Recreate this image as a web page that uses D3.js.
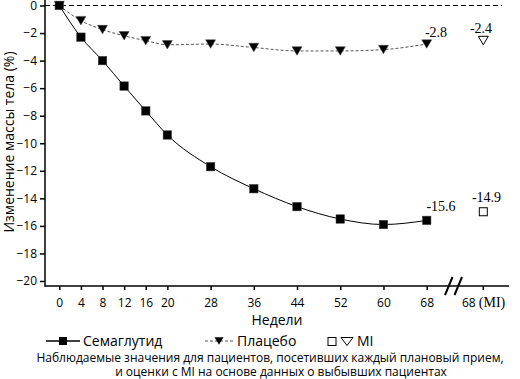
<!DOCTYPE html>
<html><head><meta charset="utf-8">
<script src="https://cdn.jsdelivr.net/npm/d3@7"></script>
<style>body{margin:0;background:#fff}svg{display:block}</style>
</head><body>
<script>
const weeks = [0, 4, 8, 12, 16, 20, 28, 36, 44, 52, 60, 68];
const semaglutide = [0, -2.3, -4.0, -5.85, -7.65, -9.4, -11.7, -13.3, -14.6, -15.5, -15.9, -15.6];
const placebo = [0, -1.1, -1.75, -2.2, -2.55, -2.85, -2.8, -3.05, -3.3, -3.3, -3.2, -2.8];
const miValues = {semaglutide: -14.9, placebo: -2.4};
const yTicks = [0, -2, -4, -6, -8, -10, -12, -14, -16, -18, -20];
const yLabel = "Изменение массы тела (%)";
const xLabel = "Недели";
const legendNames = ["Семаглутид", "Плацебо", "MI"];
const noteLines = ["Наблюдаемые значения для пациентов, посетивших каждый плановый прием,",
                   "и оценки с MI на основе данных о выбывших пациентах"];

const W = 520, H = 379;
const svg = d3.select("body").append("svg").attr("width", W).attr("height", H);
const sans = "'Open Sans', 'Noto Sans', sans-serif";
const serif = "'Liberation Serif', 'DejaVu Serif', serif";

const x = d3.scaleLinear().domain([0, 68]).range([59.3, 426.7]);
const xMI = 483.3;
const y = d3.scaleLinear().domain([-20, 0]).range([281, 5.5]);
const axisY = 286, axisX = 45;

// zero reference line
svg.append("line").attr("x1", axisX).attr("x2", 502).attr("y1", y(0)).attr("y2", y(0))
  .attr("stroke", "#000").attr("stroke-width", 1.2).attr("stroke-dasharray", "5,3");

// Y axis
const gy = svg.append("g").attr("transform", `translate(${axisX},0)`)
  .call(d3.axisLeft(y).tickValues(yTicks).tickSize(5).tickPadding(3).tickFormat(d3.format("d")));
gy.select(".domain").remove();
gy.selectAll(".tick line").attr("stroke-width", 1.5);
gy.selectAll("text").attr("font-family", sans).attr("font-size", 12).attr("fill", "#000");
svg.append("line").attr("x1", axisX).attr("x2", axisX).attr("y1", 0).attr("y2", axisY + 0.75)
  .attr("stroke", "#000").attr("stroke-width", 1.5);

// X axis
const gx = svg.append("g").attr("transform", `translate(0,${axisY})`)
  .call(d3.axisBottom(x).tickValues(weeks).tickSize(4).tickPadding(8).tickFormat(d3.format("d")));
gx.select(".domain").remove();
gx.selectAll(".tick line").attr("stroke-width", 1.5);
gx.selectAll("text").attr("font-family", sans).attr("font-size", 12).attr("fill", "#000");
svg.append("line").attr("x1", axisX).attr("x2", 509).attr("y1", axisY).attr("y2", axisY)
  .attr("stroke", "#000").attr("stroke-width", 1.5);
// MI tick
svg.append("line").attr("x1", xMI).attr("x2", xMI).attr("y1", axisY).attr("y2", axisY + 4)
  .attr("stroke", "#000").attr("stroke-width", 1.5);
const miTxt = svg.append("text").attr("x", 462).attr("y", 306.5)
  .attr("font-size", 12).attr("fill", "#000");
miTxt.append("tspan").attr("font-family", sans).text("68 ");
miTxt.append("tspan").attr("font-family", serif).attr("font-size", 14).text("(MI)");
// axis break
[[445, 295, 452.5, 277], [454.5, 295, 462, 277]].forEach(s => {
  svg.append("line").attr("x1", s[0]).attr("y1", s[1]).attr("x2", s[2]).attr("y2", s[3])
    .attr("stroke", "#000").attr("stroke-width", 2);
});

// Axis labels
svg.append("text").attr("transform", `translate(14,142) rotate(-90)`).attr("text-anchor", "middle")
  .attr("font-family", sans).attr("font-size", 14).attr("fill", "#000").text(yLabel);
svg.append("text").attr("x", 277).attr("y", 325).attr("text-anchor", "middle")
  .attr("font-family", sans).attr("font-size", 14).attr("fill", "#000").text(xLabel);

// Lines
const line = d3.line().curve(d3.curveMonotoneX).x(d => x(d[0])).y(d => y(d[1]));
const plData = weeks.map((w, i) => [w, placebo[i]]);
const smData = weeks.map((w, i) => [w, semaglutide[i]]);
svg.append("path").datum(plData).attr("d", line).attr("fill", "none")
  .attr("stroke", "#555").attr("stroke-width", 1).attr("stroke-dasharray", "3,2");
svg.append("path").datum(smData).attr("d", line).attr("fill", "none")
  .attr("stroke", "#000").attr("stroke-width", 1);

const tri = (cx, cy, s) => `M${cx - s},${cy - s * 0.85}L${cx + s},${cy - s * 0.85}L${cx},${cy + s * 0.85}Z`;
svg.selectAll(".pl").data(plData).enter().append("path").attr("class", "pl")
  .attr("d", d => tri(x(d[0]), y(d[1]), 5)).attr("fill", "#000").attr("stroke", "#444").attr("stroke-width", 0.5);
svg.selectAll(".sm").data(smData).enter().append("rect").attr("class", "sm")
  .attr("x", d => x(d[0]) - 4.25).attr("y", d => y(d[1]) - 4.25).attr("width", 8.5).attr("height", 8.5)
  .attr("fill", "#000").attr("stroke", "#444").attr("stroke-width", 0.5);

// MI markers
svg.append("path").attr("d", tri(xMI, y(miValues.placebo) + 2, 5)).attr("fill", "#fff")
  .attr("stroke", "#000").attr("stroke-width", 1);
svg.append("rect").attr("x", xMI - 4).attr("y", y(miValues.semaglutide) - 3).attr("width", 8).attr("height", 8)
  .attr("fill", "#fff").attr("stroke", "#000").attr("stroke-width", 1);

// value labels
const lab = (tx, ty, v) => svg.append("text").attr("x", tx).attr("y", ty).attr("text-anchor", "middle")
  .attr("font-family", serif).attr("font-size", 14).attr("fill", "#000").text(d3.format(".1f")(v).replace("−", "-"));
lab(436, y(placebo[11]) - 7, placebo[11]);
lab(481, y(miValues.placebo) - 6, miValues.placebo);
lab(441, y(semaglutide[11]) - 9, semaglutide[11]);
lab(486.5, y(miValues.semaglutide) - 9, miValues.semaglutide);

// Legend
const ly = 341;
svg.append("line").attr("x1", 46).attr("x2", 80).attr("y1", ly).attr("y2", ly).attr("stroke", "#000").attr("stroke-width", 1.5);
svg.append("rect").attr("x", 59).attr("y", ly - 4).attr("width", 8).attr("height", 8).attr("fill", "#000");
svg.append("text").attr("x", 83).attr("y", ly + 5).attr("font-family", sans).attr("font-size", 14).attr("fill", "#000").text(legendNames[0]);
svg.append("line").attr("x1", 205).attr("x2", 233).attr("y1", ly).attr("y2", ly).attr("stroke", "#555").attr("stroke-width", 1).attr("stroke-dasharray", "3,2");
svg.append("path").attr("d", tri(219, ly, 4.5)).attr("fill", "#000");
svg.append("text").attr("x", 237).attr("y", ly + 5).attr("font-family", sans).attr("font-size", 14).attr("fill", "#000").text(legendNames[1]);
svg.append("rect").attr("x", 328).attr("y", ly - 3.5).attr("width", 8).attr("height", 8).attr("fill", "#fff").attr("stroke", "#000");
svg.append("path").attr("d", `M341,${ly - 3.5}L353,${ly - 3.5}L347,${ly + 4.5}Z`).attr("fill", "#fff").attr("stroke", "#000");
svg.append("text").attr("x", 357).attr("y", ly + 5).attr("font-family", sans).attr("font-size", 14).attr("fill", "#000").text(legendNames[2]);

// Footnote
svg.append("text").attr("x", 270).attr("y", 361.5).attr("text-anchor", "middle")
  .attr("font-family", sans).attr("font-size", 12).attr("fill", "#000").text(noteLines[0]);
svg.append("text").attr("x", 281).attr("y", 375.5).attr("text-anchor", "middle")
  .attr("font-family", sans).attr("font-size", 12).attr("fill", "#000").text(noteLines[1]);
</script>
</body></html>
